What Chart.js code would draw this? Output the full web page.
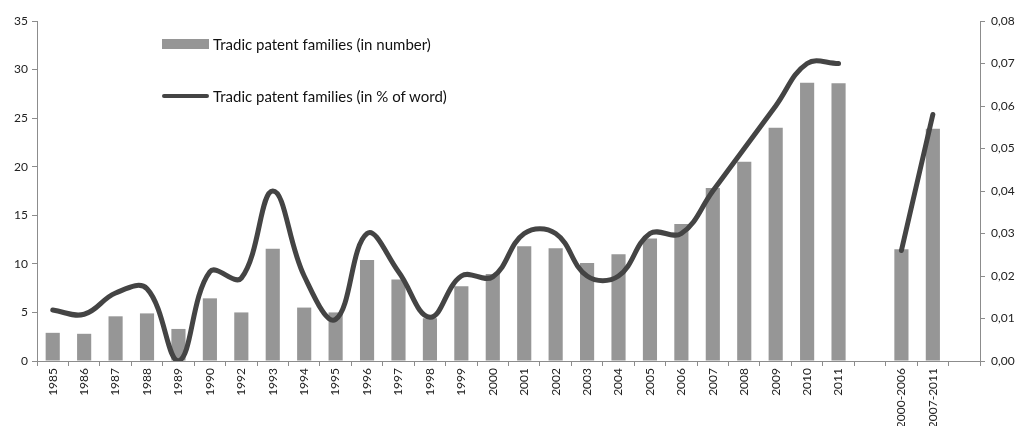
<!DOCTYPE html>
<html lang="en">

<head>
    <meta charset="UTF-8">
    <title>Tradic patent families</title>
    <script src="https://cdn.jsdelivr.net/npm/chart.js"></script>
    <style>
        body { margin: 0; background: #fff; }
        #wrap { position: relative; width: 1017px; height: 426px; }
        #legende { position: absolute; left: 162px; top: 35px; font-family: Lato, sans-serif; font-size: 15px; color: #111; }
        .item { position: absolute; left: 0; white-space: nowrap; display: flex; align-items: center; }
        .item span { display: inline-block; width: 47px; margin-right: 4px; }
        .barre { height: 10px; background: #969696; }
        .ligne { height: 4px; background: #444; border-radius: 2px; }
    </style>
</head>

<body>
    <div id="wrap">
        <canvas id="Grafico" width="1017" height="426"></canvas>
        <div id="legende">
            <div class="item" style="top:0px"><span class="barre"></span>Tradic patent families (in number)</div>
            <div class="item" style="top:52px"><span class="ligne"></span>Tradic patent families (in % of word)</div>
        </div>
    </div>

<script>
// categorias (1991 não aparece), com espaços vazios entre os blocos
var anos = ['1985', '1986', '1987', '1988', '1989', '1990', '1992', '1993', '1994', '1995',
    '1996', '1997', '1998', '1999', '2000', '2001', '2002', '2003', '2004', '2005',
    '2006', '2007', '2008', '2009', '2010', '2011', '', '2000-2006', '2007-2011', ''];

// número de famílias
var numero = [2.9, 2.8, 4.6, 4.9, 3.3, 6.45, 5.0, 11.55, 5.5, 5.0,
    10.4, 8.4, 4.4, 7.7, 8.95, 11.8, 11.6, 10.1, 11.0, 12.6,
    14.1, 17.8, 20.5, 24.0, 28.65, 28.6, null, 11.5, 23.9, null];

// % do mundo
var percentual = [0.012, 0.011, 0.016, 0.017, 0.0, 0.021, 0.0195, 0.040, 0.020, 0.0098,
    0.030, 0.021, 0.0103, 0.020, 0.0198, 0.030, 0.030, 0.020, 0.020, 0.030,
    0.030, 0.040, 0.050, 0.060, 0.070, 0.070, null, 0.026, 0.058, null];

var ticksEsq = [0, 5, 10, 15, 20, 25, 30, 35];
var ticksDir = [0, 0.01, 0.02, 0.03, 0.04, 0.05, 0.06, 0.07, 0.08];

var fonte = { family: 'Lato, sans-serif', size: 12 };
var cinzaEixo = '#8c8c8c';

var ctx = document.getElementById('Grafico').getContext('2d');

var meuGrafico = new Chart(ctx, {
    type: 'bar',
    data: {
        labels: anos,
        datasets: [{
            type: 'line',
            label: 'Tradic patent families (in % of word)',
            data: percentual,
            yAxisID: 'y1',
            borderColor: '#444444',
            borderWidth: 5,
            borderCapStyle: 'round',
            tension: 0.4,
            pointRadius: 0,
            spanGaps: false,
            order: 0
        }, {
            label: 'Tradic patent families (in number)',
            data: numero,
            yAxisID: 'y',
            backgroundColor: '#969696',
            categoryPercentage: 1.0,
            barPercentage: 0.45,
            order: 1
        }]
    },
    options: {
        responsive: false,
        animation: false,
        layout: { padding: { top: 21, bottom: 0, left: 0, right: 0 } },
        plugins: { legend: { display: false }, tooltip: { enabled: false } },
        scales: {
            x: {
                offset: true,
                grid: { offset: true, drawOnChartArea: false, drawTicks: true, tickLength: 5, color: cinzaEixo },
                border: { display: true, color: cinzaEixo },
                ticks: { font: fonte, color: '#222', maxRotation: 90, minRotation: 90, autoSkip: false, padding: 2 },
                afterFit: function (s) { s.height = 65; }
            },
            y: {
                position: 'left',
                min: 0,
                max: 35,
                afterBuildTicks: function (s) { s.ticks = ticksEsq.map(v => ({ value: v })); },
                grid: { drawOnChartArea: false, drawTicks: true, tickLength: 5, color: cinzaEixo },
                border: { display: true, color: cinzaEixo },
                ticks: { font: fonte, color: '#222', padding: 4 },
                afterFit: function (s) { s.width = 37; }
            },
            y1: {
                position: 'right',
                min: 0,
                max: 0.08,
                afterBuildTicks: function (s) { s.ticks = ticksDir.map(v => ({ value: v })); },
                grid: { drawOnChartArea: false, drawTicks: true, tickLength: 5, color: cinzaEixo },
                border: { display: true, color: cinzaEixo },
                ticks: {
                    font: fonte, color: '#222', padding: 6,
                    callback: function (v) { return v.toFixed(2).replace('.', ','); }
                },
                afterFit: function (s) { s.width = 37; }
            }
        }
    }
});
</script>
</body>

</html>
